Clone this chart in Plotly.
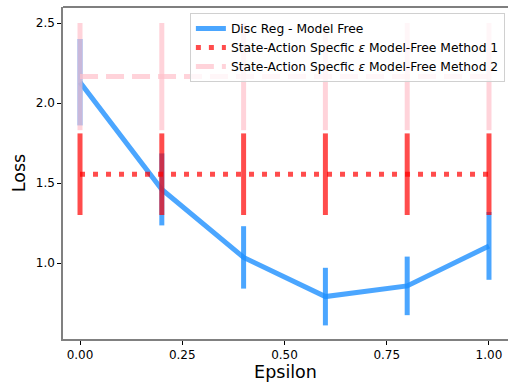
import plotly.graph_objects as go

eps = [0.0, 0.2, 0.4, 0.6, 0.8, 1.0]
disc_mean = [2.13, 1.46, 1.035, 0.79, 0.857, 1.107]
disc_err = [0.27, 0.225, 0.195, 0.18, 0.183, 0.212]
m1_mean = [1.555] * 6
m1_err = [0.255] * 6
m2_mean = [2.165] * 6
m2_err = [0.335] * 6

names = ["Disc Reg - Model Free",
         "State-Action Specfic <i>ε</i> Model-Free Method 1",
         "State-Action Specfic <i>ε</i> Model-Free Method 2"]

blue = "rgba(30,144,255,0.8)"
red = "rgba(255,0,0,0.7)"
pink = "rgba(255,192,203,0.7)"

fig = go.Figure()
fig.add_trace(go.Scatter(x=eps, y=disc_mean, mode="lines", name=names[0],
                         line=dict(color=blue, width=5),
                         error_y=dict(type="data", array=disc_err, color=blue, thickness=5, width=0)))
fig.add_trace(go.Scatter(x=eps, y=m1_mean, mode="lines", name=names[1],
                         line=dict(color=red, width=5, dash="5px,8px"),
                         error_y=dict(type="data", array=m1_err, color=red, thickness=5, width=0)))
fig.add_trace(go.Scatter(x=eps, y=m2_mean, mode="lines", name=names[2],
                         line=dict(color=pink, width=5, dash="18px,8px"),
                         error_y=dict(type="data", array=m2_err, color=pink, thickness=5, width=0)))

font = "DejaVu Sans"
fig.update_layout(
    width=508, height=383,
    margin=dict(l=63, r=0, t=7, b=44),
    paper_bgcolor="white", plot_bgcolor="white",
    font=dict(family=font, color="black", size=12),
    showlegend=True,
    legend=dict(x=0.993, y=0.982, xanchor="right", yanchor="top",
                bgcolor="rgba(255,255,255,0.8)", bordercolor="#d0d0d0", borderwidth=1,
                font=dict(size=12.3, family=font), tracegroupgap=0, itemwidth=30),
    xaxis=dict(range=[-0.0416, 1.0465], tickvals=[0, 0.25, 0.5, 0.75, 1.0],
               ticktext=["0.00", "0.25", "0.50", "0.75", "1.00"],
               showgrid=False, zeroline=False, showline=True, linecolor="#808080", linewidth=1.5,
               ticks="outside", ticklen=4, tickcolor="black", tickwidth=1,
               tickfont=dict(size=12),
               title=dict(text="Epsilon", font=dict(size=17.5), standoff=3)),
    yaxis=dict(range=[0.525, 2.6], tickvals=[1.0, 1.5, 2.0, 2.5],
               ticktext=["1.0", "1.5", "2.0", "2.5"],
               showgrid=False, zeroline=False, showline=True, linecolor="#808080", linewidth=1.5,
               ticks="outside", ticklen=4, tickcolor="black", tickwidth=1,
               tickfont=dict(size=12),
               title=dict(text="Loss", font=dict(size=17.5), standoff=6)),
    shapes=[dict(type="line", xref="paper", yref="paper", x0=0, x1=1, y0=1, y1=1,
                 line=dict(color="black", width=1.2))],
)
fig.write_html("out.html")
